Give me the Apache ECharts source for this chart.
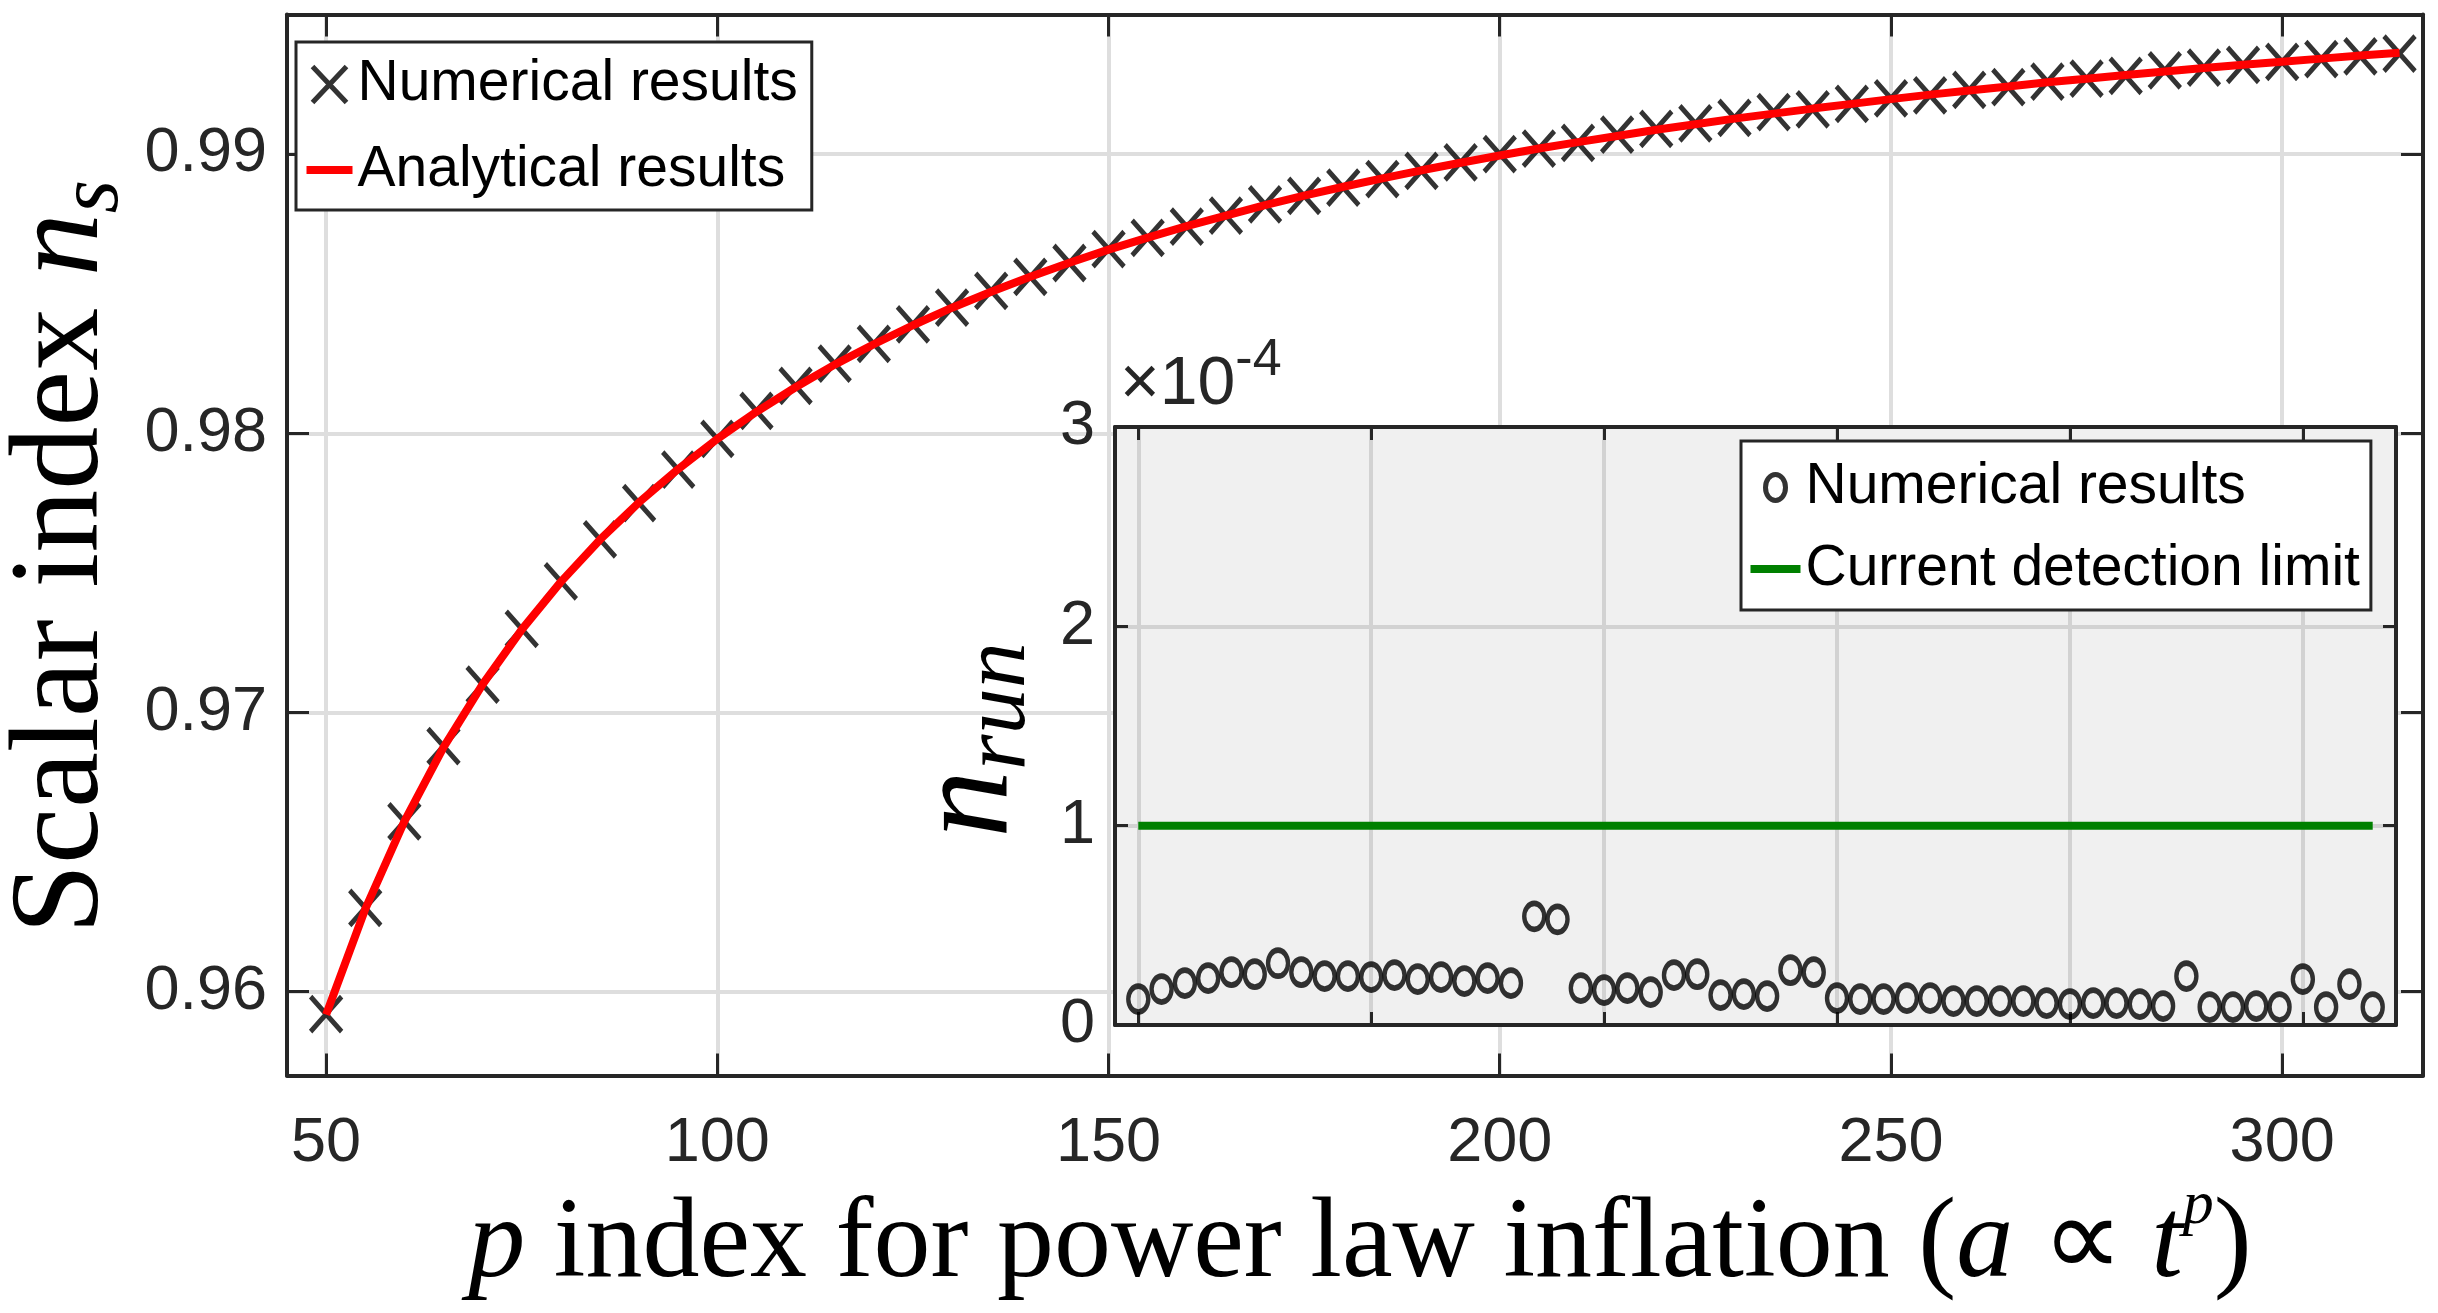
<!DOCTYPE html>
<html>
<head>
<meta charset="utf-8">
<script src="https://cdn.jsdelivr.net/npm/echarts@6/dist/echarts.min.js"></script>
<style>
  html, body { margin: 0; padding: 0; background: #ffffff; }
  #chart { width: 2438px; height: 1313px; }
</style>
</head>
<body>
<div id="chart"></div>
<script>
// Power-law inflation exponent p (a ∝ t^p)
const pValues = [
  50, 55, 60, 65, 70, 75, 80, 85, 90, 95,
  100, 105, 110, 115, 120, 125, 130, 135, 140, 145,
  150, 155, 160, 165, 170, 175, 180, 185, 190, 195,
  200, 205, 210, 215, 220, 225, 230, 235, 240, 245,
  250, 255, 260, 265, 270, 275, 280, 285, 290, 295,
  300, 305, 310, 315
];

// Scalar spectral index n_s, numerical points (crosses)
const nsNumerical = [
  0.9592, 0.9630, 0.9661, 0.9688, 0.9710, 0.9730, 0.9747, 0.9762, 0.9775, 0.9787,
  0.9798, 0.9808, 0.9817, 0.9825, 0.9832, 0.9839, 0.9845, 0.9851, 0.9856, 0.9861,
  0.9866, 0.9870, 0.9874, 0.9878, 0.9882, 0.9885, 0.9888, 0.9891, 0.9894, 0.9897,
  0.9900, 0.9902, 0.9904, 0.9907, 0.9909, 0.9911, 0.9913, 0.9915, 0.9916, 0.9918,
  0.9920, 0.9921, 0.9923, 0.9924, 0.9926, 0.9927, 0.9928, 0.9930, 0.9931, 0.9932,
  0.9933, 0.9934, 0.9935, 0.9936
];

// Scalar spectral index n_s, analytical curve
const nsAnalytical = [
  0.95918, 0.96296, 0.96610, 0.96875, 0.97101, 0.97297, 0.97468, 0.97619, 0.97753, 0.97872,
  0.97980, 0.98077, 0.98165, 0.98246, 0.98319, 0.98387, 0.98450, 0.98507, 0.98561, 0.98611,
  0.98658, 0.98701, 0.98742, 0.98780, 0.98817, 0.98851, 0.98883, 0.98913, 0.98942, 0.98969,
  0.98995, 0.99020, 0.99043, 0.99065, 0.99087, 0.99107, 0.99127, 0.99145, 0.99163, 0.99180,
  0.99197, 0.99213, 0.99228, 0.99242, 0.99257, 0.99270, 0.99283, 0.99296, 0.99308, 0.99320,
  0.99331, 0.99342, 0.99353, 0.99363
];

// Running of the spectral index n_run, in units of 1e-4
const nRun = [
  0.13, 0.18, 0.21, 0.235, 0.265, 0.255, 0.31, 0.265, 0.245, 0.245,
  0.24, 0.25, 0.23, 0.24, 0.22, 0.235, 0.21, 0.545, 0.53, 0.185,
  0.175, 0.185, 0.165, 0.25, 0.255, 0.15, 0.155, 0.145, 0.275, 0.265,
  0.135, 0.13, 0.13, 0.135, 0.135, 0.12, 0.12, 0.12, 0.12, 0.11,
  0.105, 0.11, 0.11, 0.105, 0.095, 0.245, 0.09, 0.09, 0.095, 0.09,
  0.23, 0.09, 0.205, 0.09
];

// Current observational detection limit for n_run (units of 1e-4)
const detectionLimitP = [50, 315];
const detectionLimit = [1, 1];

// Tick labels
const mainXTicks = [50, 100, 150, 200, 250, 300];
const mainYTicks = [0.96, 0.97, 0.98, 0.99];
const insetYTicks = [0, 1, 2, 3];

const SANS = "'Liberation Sans', Arial, Helvetica, sans-serif";
const SERIF = "'Liberation Serif', 'Times New Roman', serif";
const AXIS_COLOR = '#262626';
const TICK_FONT = 63;

const zip = (xs, ys) => xs.map((x, i) => [x, ys[i]]);
const isTick = (v, ticks) => ticks.some(t => Math.abs(t - v) < 1e-9);

// main panel and inset panel rectangles
const MAIN = { left: 287, top: 14.5, width: 2136, height: 1061 };
const INSET = { left: 1115, top: 427, width: 1281, height: 598 };

function axisBase(opts) {
  return Object.assign({
    type: 'value',
    axisLine: { show: true, onZero: false, lineStyle: { color: AXIS_COLOR, width: 4 } },
    axisTick: { show: true, inside: true, length: opts.tickLen, lineStyle: { color: AXIS_COLOR, width: 3 } },
    axisLabel: { show: false },
    splitLine: { show: false }
  }, opts.extra);
}

const CROSS = 'path://M0 0L1 1M1 0L0 1';

const option = {
  animation: false,
  backgroundColor: '#ffffff',
  grid: [
    Object.assign({ show: false }, MAIN),
    Object.assign({ show: true, backgroundColor: '#f0f0f0', borderWidth: 0, z: 1 }, INSET)
  ],
  xAxis: [
    axisBase({ tickLen: 22, extra: {
      gridIndex: 0, position: 'bottom', min: 45, max: 318, z: 0,
      axisLabel: { show: true, margin: 37, fontSize: TICK_FONT, fontFamily: SANS, color: AXIS_COLOR,
        formatter: v => isTick(v, mainXTicks) ? String(v) : '' },
      splitLine: { show: true, showMinLine: false, showMaxLine: false,
        lineStyle: { color: '#dedede', width: 4 } }
    }}),
    axisBase({ tickLen: 22, extra: { gridIndex: 0, position: 'top', min: 45, max: 318, z: 0 } }),
    axisBase({ tickLen: 13, extra: {
      gridIndex: 1, position: 'bottom', min: 45, max: 320, z: 2,
      splitLine: { show: true, showMinLine: false, showMaxLine: false,
        lineStyle: { color: '#d2d2d2', width: 4 } }
    }}),
    axisBase({ tickLen: 13, extra: { gridIndex: 1, position: 'top', min: 45, max: 320, z: 2 } })
  ],
  yAxis: [
    axisBase({ tickLen: 22, extra: {
      gridIndex: 0, position: 'left', min: 0.957, max: 0.995, z: 0,
      axisLabel: { show: true, margin: 20, fontSize: TICK_FONT, fontFamily: SANS, color: AXIS_COLOR,
        formatter: v => isTick(v, mainYTicks) ? v.toFixed(2) : '' },
      splitLine: { show: true, showMinLine: false, showMaxLine: false,
        lineStyle: { color: '#dedede', width: 4 } }
    }}),
    axisBase({ tickLen: 22, extra: { gridIndex: 0, position: 'right', min: 0.957, max: 0.995, z: 0 } }),
    axisBase({ tickLen: 13, extra: {
      gridIndex: 1, position: 'left', min: 0, max: 3, interval: 1, z: 2,
      axisLabel: { show: true, margin: 20, fontSize: TICK_FONT, fontFamily: SANS, color: AXIS_COLOR,
        formatter: v => isTick(v, insetYTicks) ? String(v) : '' },
      splitLine: { show: true, showMinLine: false, showMaxLine: false,
        lineStyle: { color: '#d2d2d2', width: 4 } }
    }}),
    axisBase({ tickLen: 13, extra: { gridIndex: 1, position: 'right', min: 0, max: 3, interval: 1, z: 2 } })
  ],
  legend: [
    {
      orient: 'vertical', left: 296, top: 42, z: 10,
      selectedMode: false,
      itemWidth: 46, itemHeight: 60, itemGap: 23,
      padding: [10, 14, 10, 8],
      backgroundColor: '#ffffff', borderColor: AXIS_COLOR, borderWidth: 3, borderRadius: 0,
      textStyle: { fontFamily: SANS, fontSize: 57, color: '#000000', lineHeight: 60 },
      data: [
        { name: 'Numerical results', icon: 'path://M0 0M46 60M6 12L40 48M40 12L6 48',
          itemStyle: { color: 'rgba(0,0,0,0)', borderColor: '#000000', borderWidth: 5 } },
        { name: 'Analytical results', icon: 'path://M0 0M46 60M0 26L46 26L46 34L0 34Z',
          itemStyle: { color: '#ff0000', borderWidth: 0 } }
      ]
    },
    {
      orient: 'vertical', left: 1741, top: 441, z: 10,
      selectedMode: false,
      itemWidth: 50, itemHeight: 60, itemGap: 19,
      padding: [14, 11, 11, 7],
      backgroundColor: '#ffffff', borderColor: AXIS_COLOR, borderWidth: 3, borderRadius: 0,
      textStyle: { fontFamily: SANS, fontSize: 57, color: '#000000', lineHeight: 60 },
      data: [
        { name: 'Numerical results',
          icon: 'path://M0 0M50 60M35 30A10 13 0 1 1 15 30A10 13 0 1 1 35 30Z',
          itemStyle: { color: 'rgba(0,0,0,0)', borderColor: '#000000', borderWidth: 5 } },
        { name: 'Current detection limit', icon: 'path://M0 0M50 60M0 26L50 26L50 34L0 34Z',
          itemStyle: { color: '#008000', borderWidth: 0 } }
      ]
    }
  ],
  series: [
    {
      name: 'Numerical results', type: 'scatter', xAxisIndex: 0, yAxisIndex: 0, z: 3,
      data: zip(pValues, nsNumerical),
      symbol: CROSS, symbolSize: [31, 35],
      itemStyle: { color: 'rgba(0,0,0,0)', borderColor: '#000000', borderWidth: 5 },
      emphasis: { disabled: true }, silent: true
    },
    {
      name: 'Analytical results', type: 'line', xAxisIndex: 0, yAxisIndex: 0, z: 4,
      data: zip(pValues, nsAnalytical),
      symbol: 'none', smooth: false,
      lineStyle: { color: '#ff0000', width: 8 },
      itemStyle: { color: '#ff0000' },
      emphasis: { disabled: true }, silent: true
    },
    {
      name: 'Numerical results', type: 'scatter', xAxisIndex: 2, yAxisIndex: 2, z: 4,
      data: zip(pValues, nRun),
      symbol: 'circle', symbolSize: [20, 26],
      itemStyle: { color: 'rgba(0,0,0,0)', borderColor: '#000000', borderWidth: 5 },
      emphasis: { disabled: true }, silent: true
    },
    {
      name: 'Current detection limit', type: 'line', xAxisIndex: 2, yAxisIndex: 2, z: 3,
      data: zip(detectionLimitP, detectionLimit),
      symbol: 'none',
      lineStyle: { color: '#008000', width: 8 },
      itemStyle: { color: '#008000' },
      emphasis: { disabled: true }, silent: true
    }
  ],
  graphic: [
    { // y-axis title of the main panel
      type: 'text', x: 64, y: 557, rotation: Math.PI / 2, z: 5, silent: true,
      style: {
        text: 'Scalar index {it|n}{sub|s}',
        fontFamily: SERIF, fontSize: 126, lineHeight: 146, fill: '#000000',
        align: 'center', verticalAlign: 'middle',
        rich: {
          it: { fontFamily: SERIF, fontStyle: 'italic', fontSize: 126, lineHeight: 146 },
          sub: { fontFamily: SERIF, fontStyle: 'italic', fontSize: 86, lineHeight: 88, verticalAlign: 'bottom' }
        }
      }
    },
    { // x-axis title of the main panel
      type: 'text', x: 1360, y: 1246, z: 5, silent: true,
      style: {
        text: '{it|p} index for power law inflation ({it|a} ∝ {it|t}{sup|p})',
        fontFamily: SERIF, fontSize: 114, lineHeight: 140, fill: '#000000',
        align: 'center', verticalAlign: 'middle',
        rich: {
          it: { fontFamily: SERIF, fontStyle: 'italic', fontSize: 114, lineHeight: 140 },
          sup: { fontFamily: SERIF, fontStyle: 'italic', fontSize: 62, lineHeight: 120, verticalAlign: 'top' }
        }
      }
    },
    { // y-axis title of the inset
      type: 'text', x: 971, y: 740, rotation: Math.PI / 2, z: 5, silent: true,
      style: {
        text: '{it|n}{sub|run}',
        fontFamily: SERIF, fontSize: 135, lineHeight: 150, fill: '#000000',
        align: 'center', verticalAlign: 'middle',
        rich: {
          it: { fontFamily: SERIF, fontStyle: 'italic', fontSize: 135, lineHeight: 150 },
          sub: { fontFamily: SERIF, fontStyle: 'italic', fontSize: 92, lineHeight: 92, verticalAlign: 'bottom' }
        }
      }
    },
    { // exponent of the inset y-axis
      type: 'text', x: 1120, y: 385, z: 5, silent: true,
      style: {
        text: '×10{sup|-4}',
        fontFamily: SANS, fontSize: 68, lineHeight: 100, fill: AXIS_COLOR,
        align: 'left', verticalAlign: 'middle',
        rich: {
          sup: { fontFamily: SANS, fontSize: 52, lineHeight: 39, verticalAlign: 'top' }
        }
      }
    }
  ]
};

const chart = echarts.init(document.getElementById('chart'), null, { renderer: 'canvas' });
chart.setOption(option);
</script>
</body>
</html>
